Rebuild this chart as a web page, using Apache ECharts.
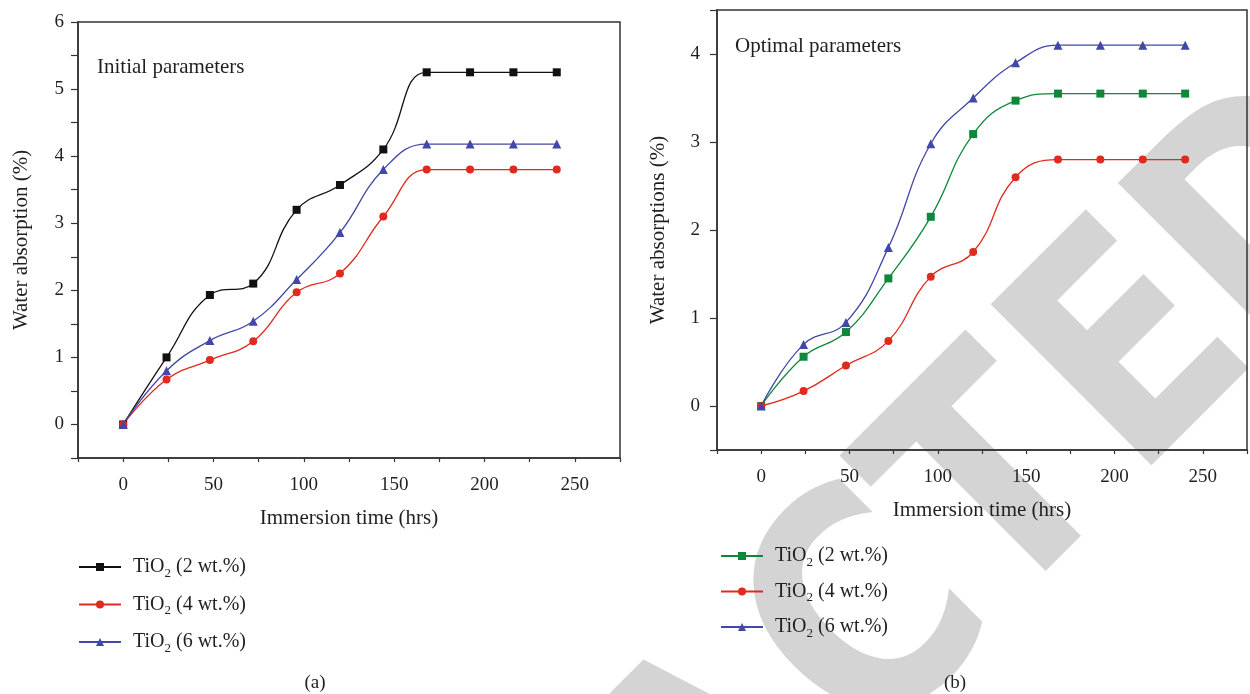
<!DOCTYPE html>
<html>
<head>
<meta charset="utf-8">
<script src="https://cdn.jsdelivr.net/npm/echarts@6/dist/echarts.min.js"></script>
<style>
  html, body { margin: 0; padding: 0; background: #fff; }
  #chart { width: 1250px; height: 694px; }
</style>
</head>
<body>
<div id="chart"></div>
<script>
// immersion times (hrs)
const hours = [0, 24, 48, 72, 96, 120, 144, 168, 192, 216, 240]

// (a) initial parameters, water absorption (%)
const initial2 = [0, 1.0, 1.93, 2.1, 3.2, 3.57, 4.1, 5.25, 5.25, 5.25, 5.25]
const initial4 = [0, 0.67, 0.96, 1.24, 1.97, 2.25, 3.1, 3.8, 3.8, 3.8, 3.8]
const initial6 = [0, 0.8, 1.25, 1.54, 2.16, 2.86, 3.8, 4.18, 4.18, 4.18, 4.18]

// (b) optimal parameters, water absorptions (%)
const optimal2 = [0, 0.56, 0.84, 1.45, 2.15, 3.09, 3.47, 3.55, 3.55, 3.55, 3.55]
const optimal4 = [0, 0.17, 0.46, 0.74, 1.47, 1.75, 2.6, 2.8, 2.8, 2.8, 2.8]
const optimal6 = [0, 0.7, 0.95, 1.8, 2.98, 3.5, 3.9, 4.1, 4.1, 4.1, 4.1]

const loadings = { a2: '2', a4: '4', a6: '6', b2: '2', b4: '4', b6: '6' }

const SERIF = 'Liberation Serif'
const INK = '#231f20'
const BLACK = '#111111'
const RED = '#e02a1e'
const BLUE = '#4148a8'
const GREEN = '#0f873b'

const pairs = (ys) => hours.map((h, i) => [h, ys[i]])

function xAxisFor (gridIndex) {
  return {
    gridIndex: gridIndex,
    type: 'value',
    min: -25,
    max: 275,
    interval: 25,
    name: 'Immersion time (hrs)',
    nameLocation: 'middle',
    nameGap: 50,
    nameTextStyle: { fontFamily: SERIF, fontSize: 21, color: INK },
    axisLine: { show: true, onZero: false, lineStyle: { color: '#333', width: 1.5 } },
    axisTick: { show: true, length: 4, lineStyle: { color: '#333', width: 1.2 } },
    axisLabel: {
      margin: 18,
      fontFamily: SERIF,
      fontSize: 19,
      color: INK,
      formatter: function (v) {
        return v >= 0 && v <= 250 && v % 50 === 0 ? String(v) : ''
      }
    },
    splitLine: { show: false }
  }
}

function yAxisFor (gridIndex, name, range, labelMargin) {
  const axis = {
    gridIndex: gridIndex,
    type: 'value',
    min: range[0],
    max: range[1],
    name: name,
    nameLocation: 'middle',
    nameGap: 46,
    nameTextStyle: { fontFamily: SERIF, fontSize: 21, color: INK },
    axisLine: { show: true, onZero: false, lineStyle: { color: '#333', width: 1.5 } },
    axisTick: { show: true, length: 7, lineStyle: { color: '#333', width: 1.2 } },
    axisLabel: {
      margin: labelMargin,
      fontFamily: SERIF,
      fontSize: 19,
      color: INK,
      formatter: function (v) { return v >= 0 && Number.isInteger(v) ? String(v) : '' }
    },
    splitLine: { show: false }
  }
  return axis
}

function legendFor (names, left, top, gap) {
  return {
    orient: 'vertical',
    left: left,
    top: top,
    padding: 0,
    itemWidth: 42,
    itemHeight: 10,
    itemGap: gap,
    data: names,
    formatter: function (name) {
      return 'TiO{sub|2} (' + loadings[name] + ' wt.%)'
    },
    textStyle: {
      fontFamily: SERIF,
      fontSize: 20,
      color: INK,
      lineHeight: 26,
      padding: [0, 0, 0, 7],
      rich: {
        sub: { fontFamily: SERIF, fontSize: 13, lineHeight: 13, verticalAlign: 'bottom', color: INK }
      }
    }
  }
}

function lineSeries (name, axisIdx, ys, color, symbol, size) {
  return {
    name: name,
    type: 'line',
    xAxisIndex: axisIdx,
    yAxisIndex: axisIdx,
    data: pairs(ys),
    smooth: 0.45,
    symbol: symbol,
    symbolSize: size,
    lineStyle: { color: color, width: 1.3 },
    itemStyle: { color: color }
  }
}

// watermark letters of the retraction stamp (decoration, placed by hand)
const stampLetters = [['A', 726, 784], ['C', 877, 630], ['T', 1006, 496], ['E', 1141, 361], ['D', 1282, 226]]

const stamp = stampLetters.map(function (l) {
  return {
    type: 'text',
    x: l[1],
    y: l[2],
    rotation: Math.PI / 4,
    scaleX: 0.85,
    z: -10,
    silent: true,
    style: {
      text: l[0],
      fontFamily: 'DejaVu Sans',
      fontWeight: 'bold',
      fontSize: 312,
      fill: '#d4d4d4',
      align: 'center',
      verticalAlign: 'middle'
    }
  }
})

const chart = echarts.init(document.getElementById('chart'), null, { renderer: 'canvas' })

const yA = yAxisFor(0, 'Water absorption (%)', [-0.5, 6], 14)
yA.interval = 0.5
const yB = yAxisFor(1, 'Water absorptions (%)', [-0.5, 4.5], 17)
yB.splitNumber = 5
yB.nameGap = 48

const option = {
  animation: false,
  backgroundColor: '#fff',
  grid: [
    { left: 78, top: 22, width: 542, height: 436, show: true, borderColor: '#333', borderWidth: 1.5 },
    { left: 717, top: 10, width: 542, height: 440, show: true, borderColor: '#333', borderWidth: 1.5 }
  ],
  xAxis: [xAxisFor(0), xAxisFor(1)],
  yAxis: [yA, yB],
  legend: [
    legendFor(['a2', 'a4', 'a6'], 78, 554, 11.5),
    legendFor(['b2', 'b4', 'b6'], 720, 543, 9.5)
  ],
  series: [
    lineSeries('a2', 0, initial2, BLACK, 'rect', 8),
    lineSeries('a4', 0, initial4, RED, 'circle', 8),
    lineSeries('a6', 0, initial6, BLUE, 'triangle', 9),
    lineSeries('b2', 1, optimal2, GREEN, 'rect', 8),
    lineSeries('b4', 1, optimal4, RED, 'circle', 8),
    lineSeries('b6', 1, optimal6, BLUE, 'triangle', 9)
  ],
  graphic: stamp.concat([
    {
      type: 'text',
      left: 97,
      top: 57,
      style: { text: 'Initial parameters', fontFamily: SERIF, fontSize: 21, fill: INK }
    },
    {
      type: 'text',
      left: 735,
      top: 36,
      style: { text: 'Optimal parameters', fontFamily: SERIF, fontSize: 21, fill: INK }
    },
    {
      type: 'text',
      x: 315,
      y: 683,
      style: { text: '(a)', fontFamily: SERIF, fontSize: 19, fill: INK, align: 'center', verticalAlign: 'middle' }
    },
    {
      type: 'text',
      x: 955,
      y: 683,
      style: { text: '(b)', fontFamily: SERIF, fontSize: 19, fill: INK, align: 'center', verticalAlign: 'middle' }
    }
  ])
}

chart.setOption(option)
</script>
</body>
</html>
